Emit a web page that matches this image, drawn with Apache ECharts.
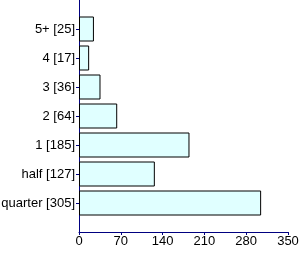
<!DOCTYPE html>
<html><head><meta charset="utf-8">
<script src="https://cdn.jsdelivr.net/npm/echarts@6/dist/echarts.min.js"></script>
<style>html,body{margin:0;padding:0;background:#fff}#c{width:300px;height:254px}</style>
</head><body><div id="c"></div>
<script>
const categories = ['quarter [305]', 'half [127]', '1 [185]', '2 [64]', '3 [36]', '4 [17]', '5+ [25]'];
const values = [305, 127, 185, 64, 36, 17, 25];
const xTicks = [0, 70, 140, 210, 280, 350];

const cats = [''].concat(categories, ['']);
const vals = ['-'].concat(values, ['-']);
const chart = echarts.init(document.getElementById('c'), null, {renderer: 'canvas'});
chart.setOption({
  animation: false,
  grid: {left: 79, right: 12, top: 0, bottom: 22, containLabel: false, outerBoundsMode: 'none'},
  xAxis: {
    type: 'value', min: xTicks[0], max: xTicks[xTicks.length - 1], interval: 70,
    axisLine: {show: true, lineStyle: {color: '#000080', width: 1}},
    axisTick: {show: true, length: 3, lineStyle: {color: '#000080'}},
    axisLabel: {color: '#000', fontFamily: 'Liberation Sans, Arial', fontSize: 13, margin: 3},
    splitLine: {show: false}
  },
  yAxis: {
    type: 'category', data: cats, boundaryGap: false,
    axisLine: {show: true, lineStyle: {color: '#000080', width: 1}},
    axisTick: {show: true, length: 3, lineStyle: {color: '#000080'},
      interval: function (i) { return i > 0 && i < cats.length - 1; }},
    axisLabel: {color: '#000', fontFamily: 'Liberation Sans, Arial', fontSize: 13, margin: 4,
      interval: 0},
    splitLine: {show: false}
  },
  series: [{
    type: 'bar', data: vals, barWidth: 25,
    itemStyle: {color: '#e0ffff', borderColor: '#000', borderWidth: 1}
  }]
});
</script></body></html>
